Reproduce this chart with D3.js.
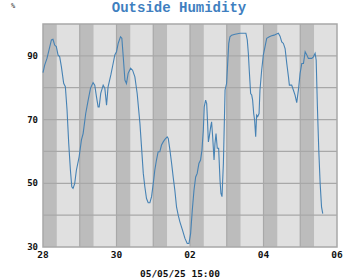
<!DOCTYPE html>
<html>
<head>
<meta charset="utf-8">
<script src="https://cdn.jsdelivr.net/npm/d3@7"></script>
<style>
body { margin: 0; background: #fff; }
svg { display: block; }
</style>
</head>
<body>
<svg width="360" height="280"></svg>
<script>
// hours since 2025-04-28 00:00
var hours = [0, 1.1, 2.6, 3.9, 5.5, 6.5, 7.6, 8.7, 9.8, 10.9, 12.0, 13.5, 14.6, 15.7, 16.8, 17.9, 18.8, 19.6, 20.7, 21.8, 23.6,
  25.1, 26.2, 27.9, 29.5, 31.0, 32.7, 33.8, 34.9, 36.0, 36.7, 37.7, 39.3, 40.4, 41.5, 42.5, 44.3, 45.8, 46.9, 48.0,
  49.1, 50.6, 51.5, 52.4, 53.5, 54.5, 55.6, 57.2, 58.5, 60.0, 61.5, 63.3, 65.5,
  66.5, 67.6, 68.7, 69.8, 70.9, 72.0, 73.0, 74.1, 75.2, 76.3, 77.4, 78.5, 79.6, 81.1, 81.8, 82.9, 84.0, 85.0, 86.1,
  87.2, 88.3, 89.4, 91.1, 92.7, 94.2, 95.3, 96.4, 97.5, 98.6, 99.7, 100.7, 101.8, 102.9, 103.8, 104.7, 105.3, 106.2,
  106.9, 107.5, 108.0, 108.6, 109.5, 110.1, 110.8, 111.7, 112.3, 113.0, 113.8, 114.7, 115.6, 116.2, 116.9, 117.8,
  118.9, 119.9, 120.6, 121.3, 122.1, 123.2, 125.4, 128.7,
  130.8, 132.5, 133.4, 134.1, 134.7, 135.6, 136.3, 136.9, 137.6, 138.2, 138.9, 139.5, 140.2, 141.1, 141.7, 142.8,
  143.9, 145.0, 146.1, 147.8, 149.3, 150.9, 152.2, 153.7, 154.8, 155.9, 157.0, 158.1, 159.2, 160.3, 160.9, 162.4,
  163.5, 164.6, 165.7, 166.8, 167.9, 169.0, 170.1, 171.2, 172.3, 173.3, 174.4, 175.5, 176.6, 177.7, 178.4, 179.2,
  180.1, 181.0, 181.9, 182.7];
var humidity = [84.7, 87.1, 89.2, 91.8, 95.0, 95.2, 93.4, 92.9, 90.3, 89.7, 86.6, 81.4, 80.3, 73.0, 62.5, 54.1, 48.9, 48.4, 49.9, 54.1, 58.3,
  63.6, 65.6, 71.9, 76.1, 79.8, 81.6, 80.8, 77.2, 74.0, 74.0, 78.2, 80.8, 79.8, 74.5, 80.3, 84.0, 87.6, 90.3, 91.3,
  93.9, 96.0, 95.5, 89.7, 82.4, 81.3, 84.5, 86.1, 85.5, 83.4, 78.2, 68.8, 53.1,
  48.9, 45.2, 43.9, 43.9, 45.8, 49.9, 54.1, 57.3, 59.9, 59.9, 62.0, 63.0, 63.8, 64.6, 64.1, 60.4, 56.2, 52.0, 47.8,
  42.6, 40.0, 37.9, 35.3, 32.7, 31.1, 31.1, 34.2, 41.6, 47.8, 52.0, 53.1, 56.2, 57.3, 60.4, 66.7, 74.0, 76.1,
  75.0, 68.8, 63.0, 64.6, 67.7, 69.3, 64.6, 57.3, 62.5, 65.6, 61.0, 61.0, 51.0, 46.8, 45.8, 56.2,
  79.3, 81.4, 87.6, 93.9, 96.0, 96.5, 96.8, 97.1,
  97.1, 97.1, 95.0, 90.8, 85.5, 78.2, 77.7, 76.1, 71.9, 69.8, 64.6, 71.4, 70.9, 71.9, 79.3, 85.5,
  90.3, 92.9, 95.5, 96.0, 96.3, 96.5, 96.8, 97.1, 96.2, 94.4, 93.9, 92.3, 87.6, 83.4, 80.8, 80.8,
  79.3, 77.7, 75.3, 79.3, 84.5, 87.6, 87.6, 91.3, 90.3, 89.2, 89.2, 89.2, 89.7, 90.8, 88.7, 74.0,
  60.4, 49.9, 42.6, 40.5];

// dark shading, hours since start [from, to]
var darkBands = [[0, 9], [24, 33], [48, 57], [72, 81], [96, 105], [120, 129], [144, 153], [168, 177]];
var yTickLabels = [30, 50, 70, 90];
var yGrid = [40, 50, 60, 70, 80, 90];
var xTickDays = ["28", "30", "02", "04", "06"];

var start = new Date(2025, 3, 28);
function toDate(h) { return new Date(start.getTime() + h * 3600000); }

var svg = d3.select("svg");
var plotLeft = 43, plotRight = 337, plotTop = 24, plotBottom = 247;

var x = d3.scaleTime()
  .domain([start, toDate(192)])
  .range([plotLeft, plotRight]);
var y = d3.scaleLinear().domain([30, 100]).range([plotBottom, plotTop]);

// title
svg.append("text")
  .attr("x", 179).attr("y", 12)
  .attr("text-anchor", "middle")
  .attr("font-family", "Liberation Mono, monospace")
  .attr("font-weight", "bold")
  .attr("font-size", "14px")
  .attr("fill", "#3f7fc0")
  .text("Outside Humidity");

svg.append("text")
  .attr("x", 13).attr("y", 8)
  .attr("text-anchor", "middle")
  .attr("font-family", "DejaVu Sans Mono, monospace")
  .attr("font-size", "7px")
  .attr("fill", "#333")
  .text("%");

// plot background
svg.append("rect")
  .attr("x", plotLeft).attr("y", plotTop)
  .attr("width", plotRight - plotLeft).attr("height", plotBottom - plotTop)
  .attr("fill", "#e0e0e0");

svg.selectAll(".band")
  .data(darkBands)
  .enter().append("rect")
  .attr("class", "band")
  .attr("x", function(d) { return x(toDate(d[0])); })
  .attr("y", plotTop)
  .attr("width", function(d) { return x(toDate(d[1])) - x(toDate(d[0])); })
  .attr("height", plotBottom - plotTop)
  .attr("fill", "#bcbcbc");

// grid
var dayTicks = d3.range(1, 8).map(function(d) { return toDate(d * 24); });
svg.selectAll(".vgrid")
  .data(dayTicks)
  .enter().append("line")
  .attr("x1", function(d) { return x(d); })
  .attr("x2", function(d) { return x(d); })
  .attr("y1", plotTop).attr("y2", plotBottom)
  .attr("stroke", "#a8a8a8").attr("stroke-width", 1.2);

svg.selectAll(".hgrid")
  .data(yGrid)
  .enter().append("line")
  .attr("x1", plotLeft).attr("x2", plotRight)
  .attr("y1", function(d) { return y(d); })
  .attr("y2", function(d) { return y(d); })
  .attr("stroke", "#a8a8a8").attr("stroke-width", 1.2);

svg.append("rect")
  .attr("x", plotLeft).attr("y", plotTop)
  .attr("width", plotRight - plotLeft).attr("height", plotBottom - plotTop)
  .attr("fill", "none")
  .attr("stroke", "#a8a8a8").attr("stroke-width", 1.5);

// the line
var line = d3.line()
  .x(function(d, i) { return x(toDate(hours[i])); })
  .y(function(d) { return y(d); });

svg.append("path")
  .datum(humidity)
  .attr("d", line)
  .attr("fill", "none")
  .attr("stroke", "#4682b4")
  .attr("stroke-width", 1.1);

// axes labels
svg.selectAll(".ylab")
  .data(yTickLabels)
  .enter().append("text")
  .attr("x", 38)
  .attr("y", function(d) { return y(d) + 3; })
  .attr("text-anchor", "end")
  .attr("font-family", "DejaVu Sans Mono, monospace")
  .attr("font-weight", "bold")
  .attr("font-size", "9px")
  .attr("fill", "#111")
  .text(function(d) { return d; });

svg.selectAll(".xlab")
  .data(xTickDays)
  .enter().append("text")
  .attr("x", function(d, i) { return x(toDate(i * 48)); })
  .attr("y", 258)
  .attr("text-anchor", "middle")
  .attr("font-family", "DejaVu Sans Mono, monospace")
  .attr("font-weight", "bold")
  .attr("font-size", "9.5px")
  .attr("fill", "#111")
  .text(function(d) { return d; });

svg.append("text")
  .attr("x", 180).attr("y", 277)
  .attr("text-anchor", "middle")
  .attr("font-family", "DejaVu Sans Mono, monospace")
  .attr("font-weight", "bold")
  .attr("font-size", "9.5px")
  .attr("fill", "#111")
  .text("05/05/25 15:00");
</script>
</body>
</html>
